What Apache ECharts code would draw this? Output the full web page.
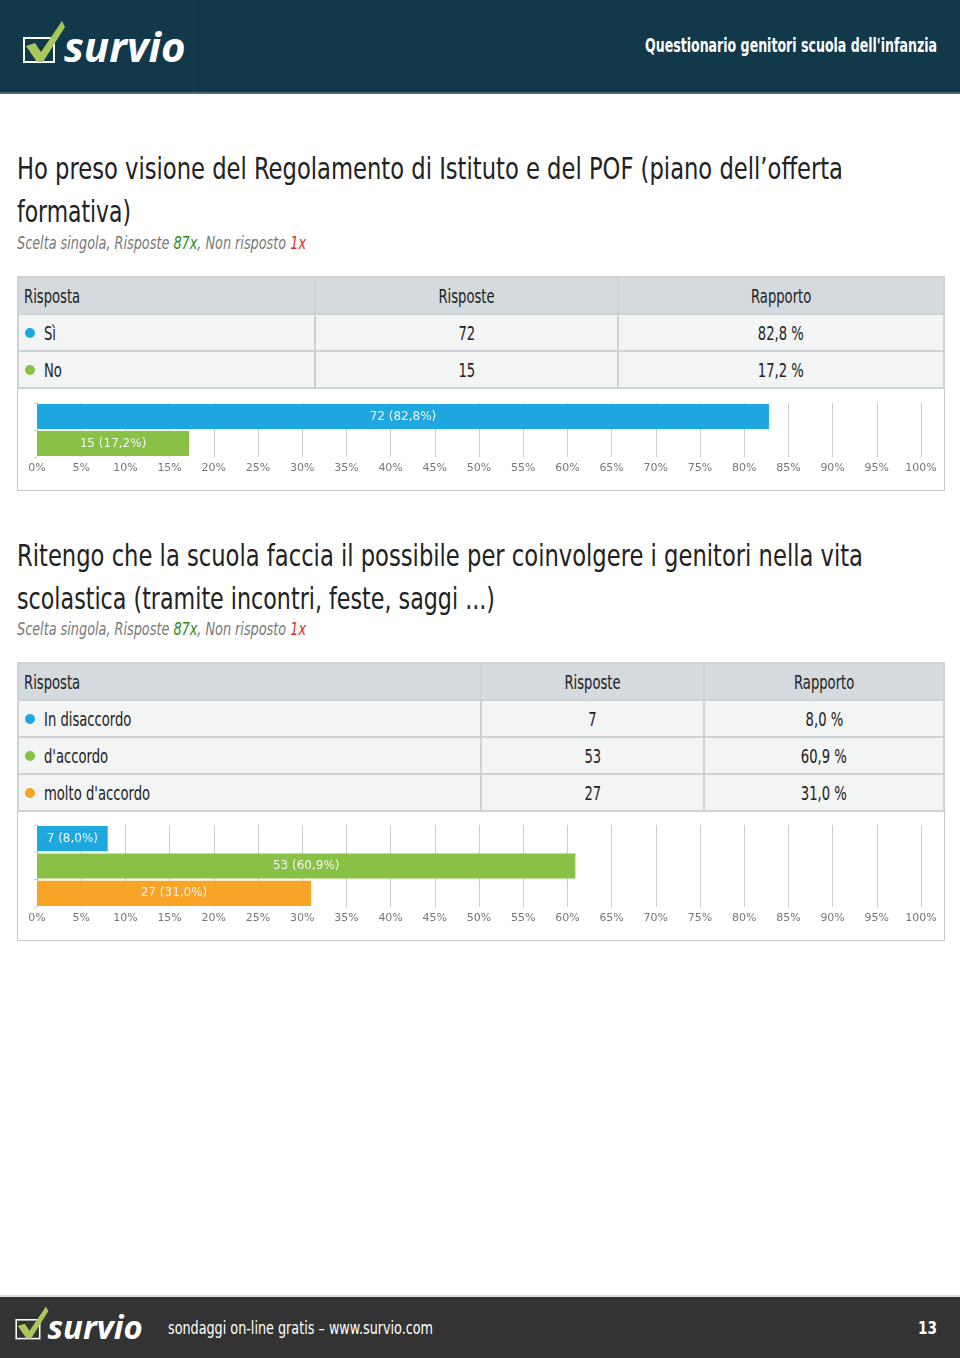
<!DOCTYPE html>
<html><head><meta charset="utf-8">
<script src="https://cdn.jsdelivr.net/npm/echarts@6/dist/echarts.min.js"></script>
<style>
html,body{margin:0;padding:0;background:#fff;}
body{width:960px;height:1358px;position:relative;overflow:hidden;font-family:"DejaVu Sans Condensed","DejaVu Sans",sans-serif;color:#222;}
.hdr{position:absolute;left:0;top:0;width:960px;height:92px;background:#12394a;border-bottom:2px solid #4d6d7b;}
.hdr .sep{position:absolute;left:193px;top:0;width:1px;height:92px;background:#1d4556;}
.fit{position:absolute;white-space:nowrap;transform-origin:0 0;}
.q{left:17px;font-size:31px;line-height:36px;color:#222;}
.sub{left:17px;font-size:18px;font-style:italic;color:#777;}
.sub .g{color:#2f8a1e}.sub .r{color:#d9342b}
table{position:absolute;left:17px;width:928px;border-collapse:collapse;font-size:19px;table-layout:fixed;}
td{border:2px solid #ccd2d6;height:35px;padding:0;text-align:center;background:#f3f4f4;white-space:nowrap;}
tr.h td{background:#d5dade;}
td.l{text-align:left;padding-left:5px;}
td span.c{display:inline-block;transform:scaleX(0.77);transform-origin:50% 50%;}
td.l span.c{transform-origin:0 50%;}
.dot{display:inline-block;width:10px;height:10px;border-radius:5px;margin:0 9px 0 1px;vertical-align:2px;}
.box{position:absolute;left:17px;width:926px;border:1px solid #c8c8c8;border-top:none;}
.ftr{position:absolute;left:0;top:1295px;width:960px;height:63px;background:#333;border-top:2px solid #ddd;}
svg.logo{position:absolute;overflow:visible;}
</style></head>
<body>
<script>
// ---- data ----
const q1Categories = ["Sì", "No"];
const q1Counts = [72, 15];
const q1Percents = [82.8, 17.2];
const q2Categories = ["In disaccordo", "d'accordo", "molto d'accordo"];
const q2Counts = [7, 53, 27];
const q2Percents = [8.0, 60.9, 31.0];
const palette = ["#1fa8e0", "#88c146", "#f8a427"];
const axisTicks = [0, 5, 10, 15, 20, 25, 30, 35, 40, 45, 50, 55, 60, 65, 70, 75, 80, 85, 90, 95, 100];
</script>

<div class="hdr"><div class="sep"></div>
<svg class="logo" style="left:22px;top:14px" width="172" height="60" viewBox="0 0 172 60">
<rect x="2" y="24" width="30" height="24" fill="none" stroke="#fff" stroke-width="2"/>
<path d="M4 32 L13 29 L19 38 L40 7 L43 13 L21 48 L15 48 Z" fill="#a9c75a"/>
<text x="42" y="48" fill="#fff" font-family="Open Sans, DejaVu Sans" font-weight="bold" font-style="italic" font-size="42">survio</text>
</svg>
<div class="fit" data-w="292" style="left:645px;top:33px;color:#fff;font-size:20px;font-weight:bold;">Questionario genitori scuola dell'infanzia</div></div>

<div class="fit q" data-w="826" style="top:150px">Ho preso visione del Regolamento di Istituto e del POF (piano dell’offerta</div>
<div class="fit q" data-w="114" style="top:193px">formativa)</div>
<div class="fit sub" data-w="289" style="top:232px">Scelta singola, Risposte <span class="g">87x</span>, Non risposto <span class="r">1x</span></div>
<table id="t1" style="top:276px"></table>
<div class="box" style="top:388px;height:102px"><div id="c1" style="width:926px;height:102px"></div></div>

<div class="fit q" data-w="846" style="top:537px">Ritengo che la scuola faccia il possibile per coinvolgere i genitori nella vita</div>
<div class="fit q" data-w="478" style="top:580px">scolastica (tramite incontri, feste, saggi ...)</div>
<div class="fit sub" data-w="289" style="top:618px">Scelta singola, Risposte <span class="g">87x</span>, Non risposto <span class="r">1x</span></div>
<table id="t2" style="top:662px"></table>
<div class="box" style="top:810px;height:130px"><div id="c2" style="width:926px;height:130px"></div></div>

<div class="ftr">
<svg class="logo" style="left:14px;top:4px" width="136" height="47" viewBox="0 0 172 60">
<rect x="2" y="24" width="30" height="24" fill="none" stroke="#fff" stroke-width="2"/>
<path d="M4 32 L13 29 L19 38 L40 7 L43 13 L21 48 L15 48 Z" fill="#a9c75a"/>
<text x="42" y="48" fill="#fff" font-family="Open Sans, DejaVu Sans" font-weight="bold" font-style="italic" font-size="42">survio</text>
</svg>
<div class="fit" data-w="265" style="left:168px;top:20px;color:#fff;font-size:18px;">sondaggi on-line gratis – www.survio.com</div>
<div class="fit" data-w="19" style="left:918px;top:20px;color:#fff;font-size:18px;font-weight:bold;">13</div></div>

<script>
function fmt(v){return v.toFixed(1).replace('.', ',');}
function buildTable(id, cats, counts, pcts, widths){
  let h = '<colgroup><col style="width:'+widths[0]+'px"><col style="width:'+widths[1]+'px"><col></colgroup>';
  h += '<tr class="h"><td class="l"><span class="c">Risposta</span></td><td><span class="c">Risposte</span></td><td><span class="c">Rapporto</span></td></tr>';
  cats.forEach((c,i)=>{
    h += '<tr><td class="l"><span class="dot" style="background:'+palette[i]+'"></span><span class="c">'+c+'</span></td><td><span class="c">'+counts[i]+'</span></td><td><span class="c">'+fmt(pcts[i])+' %</span></td></tr>';
  });
  document.getElementById(id).innerHTML = h;
}
buildTable('t1', q1Categories, q1Counts, q1Percents, [297, 303]);
buildTable('t2', q2Categories, q2Counts, q2Percents, [463, 223]);

document.querySelectorAll('.fit').forEach(el=>{
  const w = el.getBoundingClientRect().width;
  const target = +el.dataset.w;
  if (w > 0) el.style.transform = 'scaleX(' + (target / w) + ')';
});

function makeChart(id, cats, counts, pcts, top, bottom){
  const ch = echarts.init(document.getElementById(id), null, {renderer:'canvas'});
  ch.setOption({
    animation:false,
    grid:{left:19, right:23, top:top, bottom:bottom, containLabel:false},
    xAxis:{type:'value', min:0, max:100, interval:5,
      axisLine:{show:false}, axisTick:{show:false},
      axisLabel:{formatter:'{value}%', color:'#777', fontSize:11, fontFamily:'DejaVu Sans', margin:6},
      splitLine:{show:true, lineStyle:{color:'#ccc', width:1}}},
    yAxis:{type:'category', data:cats, inverse:true,
      axisLine:{show:false}, axisLabel:{show:false},
      axisTick:{show:true, length:3, lineStyle:{color:'#ccc'}}},
    series:[{type:'bar', barCategoryGap:'8%',
      data:pcts.map((p,i)=>({value:p, itemStyle:{color:palette[i]}})),
      label:{show:true, position:'inside', color:'#f4f4f4', fontSize:12, fontFamily:'DejaVu Sans',
        formatter:(p)=>counts[p.dataIndex]+' ('+fmt(pcts[p.dataIndex])+'%)'}}]
  });
}
makeChart('c1', q1Categories, q1Counts, q1Percents, 15, 33);
makeChart('c2', q2Categories, q2Counts, q2Percents, 15, 33);
</script>
</body></html>
